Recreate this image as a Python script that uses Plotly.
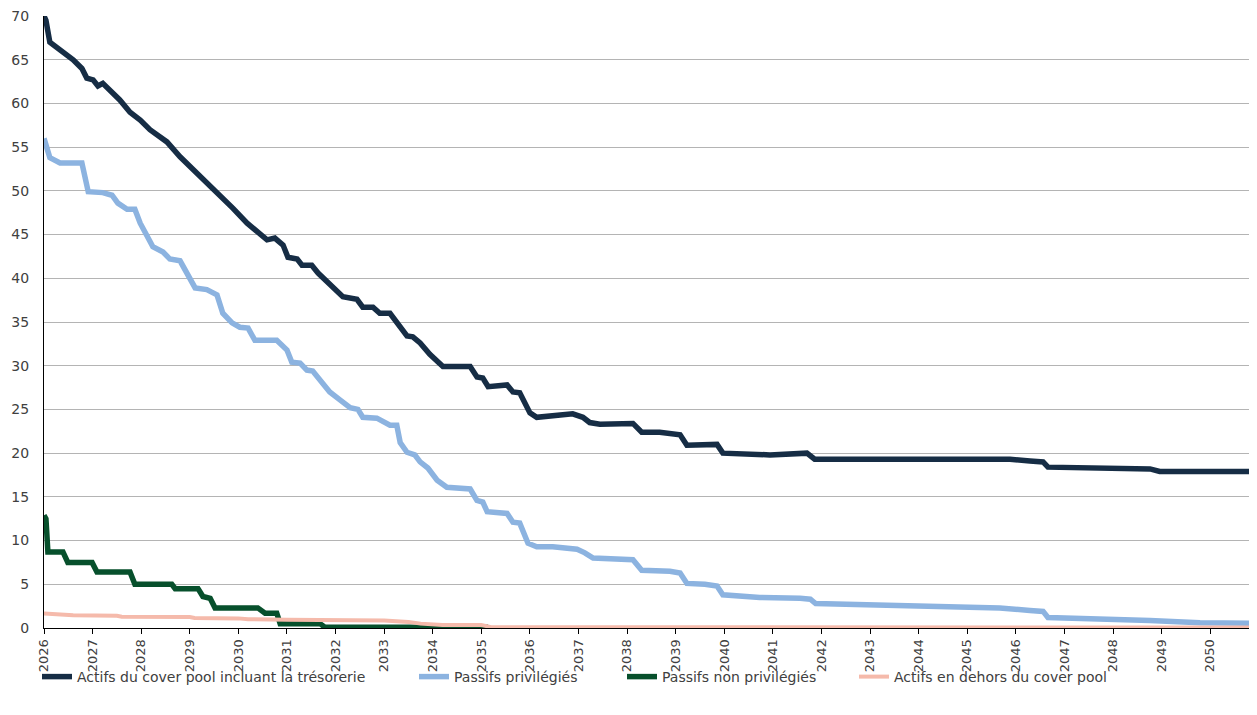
import plotly.graph_objects as go

# ---- data ----
actifs_x = [2026.00, 2026.04, 2026.12, 2026.33, 2026.60, 2026.78, 2026.88, 2027.01, 2027.11, 2027.21,
            2027.36, 2027.56, 2027.77, 2027.98, 2028.18, 2028.53, 2028.80, 2029.15, 2029.48, 2029.68,
            2029.89, 2030.18, 2030.51, 2030.59, 2030.75, 2030.92, 2031.02, 2031.21, 2031.31, 2031.51,
            2031.64, 2031.82, 2031.95, 2032.15, 2032.44, 2032.56, 2032.77, 2032.91, 2033.12, 2033.26,
            2033.47, 2033.59, 2033.74, 2033.94, 2034.21, 2034.77, 2034.91, 2035.03, 2035.14, 2035.53,
            2035.65, 2035.79, 2036.00, 2036.14, 2036.47, 2036.88, 2037.09, 2037.23, 2037.44, 2038.12,
            2038.30, 2038.67, 2039.09, 2039.23, 2039.85, 2039.97, 2040.94, 2041.35, 2041.70, 2041.86,
            2042.79, 2043.20, 2043.61, 2044.02, 2044.85, 2044.95, 2045.57, 2045.67, 2045.88, 2046.29,
            2046.56, 2046.66, 2047.63, 2047.73, 2048.76, 2048.96, 2049.58, 2049.75, 2049.93, 2050.88]
actifs_y = [70.0, 69.5, 67.0, 66.1, 65.0, 64.0, 62.9, 62.7, 62.0, 62.3,
            61.5, 60.4, 59.0, 58.1, 57.0, 55.6, 53.9, 52.0, 50.3, 49.3,
            48.0, 46.3, 44.6, 44.4, 44.6, 43.8, 42.4, 42.2, 41.5, 41.5,
            40.6, 39.6, 39.0, 37.9, 37.6, 36.7, 36.7, 36.0, 36.0, 34.9,
            33.4, 33.3, 32.6, 31.3, 29.9, 29.9, 28.7, 28.6, 27.6, 27.8,
            27.0, 26.9, 24.6, 24.1, 24.3, 24.5, 24.1, 23.5, 23.3, 23.4,
            22.4, 22.4, 22.1, 20.9, 21.0, 20.0, 19.8, 19.9, 20.0, 19.3,
            19.3, 19.4, 19.3, 19.4, 19.4, 19.3, 19.3, 19.4, 19.3, 19.1,
            19.0, 18.4, 18.3, 18.2, 18.2, 17.9, 17.9, 18.05, 17.9, 17.9]

priv_x = [2026.00, 2026.12, 2026.33, 2026.78, 2026.91, 2027.21, 2027.40, 2027.52, 2027.71, 2027.87,
          2027.98, 2028.12, 2028.24, 2028.45, 2028.59, 2028.80, 2028.94, 2029.11, 2029.35, 2029.56,
          2029.68, 2029.87, 2030.03, 2030.20, 2030.34, 2030.79, 2031.00, 2031.10, 2031.27, 2031.41,
          2031.53, 2031.68, 2031.88, 2032.09, 2032.30, 2032.46, 2032.56, 2032.85, 2033.12, 2033.26,
          2033.33, 2033.47, 2033.63, 2033.74, 2033.90, 2034.09, 2034.29, 2034.77, 2034.91, 2035.03,
          2035.12, 2035.53, 2035.65, 2035.79, 2035.96, 2036.14, 2036.47, 2036.97, 2037.13, 2037.30,
          2038.12, 2038.30, 2038.88, 2039.09, 2039.23, 2039.60, 2039.85, 2039.97, 2040.42, 2040.73,
          2041.56, 2041.77, 2041.88, 2042.79, 2043.00, 2044.85, 2045.05, 2045.67, 2046.29, 2046.56,
          2046.66, 2047.73, 2048.76, 2049.79, 2050.88]
priv_y = [56.0, 53.8, 53.2, 53.2, 49.9, 49.8, 49.5, 48.6, 47.9, 47.9,
          46.3, 44.7, 43.6, 43.0, 42.2, 42.0, 40.7, 38.9, 38.7, 38.1,
          36.0, 34.9, 34.4, 34.3, 32.9, 32.9, 31.8, 30.4, 30.3, 29.5,
          29.4, 28.4, 27.0, 26.1, 25.2, 25.0, 24.1, 24.0, 23.2, 23.2,
          21.2, 20.1, 19.8, 19.0, 18.3, 16.9, 16.1, 15.9, 14.6, 14.4,
          13.3, 13.1, 12.1, 12.0, 9.7, 9.3, 9.3, 9.0, 8.6, 8.0,
          7.8, 6.6, 6.5, 6.3, 5.1, 5.0, 4.8, 3.8, 3.6, 3.5,
          3.4, 3.3, 2.8, 2.7, 2.6, 2.5, 2.4, 2.3, 2.0, 1.9,
          1.2, 1.1, 0.85, 0.6, 0.55]

nonpriv_x = [2026.00, 2026.04, 2026.08, 2026.39, 2026.49, 2026.99, 2027.09, 2027.77, 2027.87, 2028.63,
             2028.70, 2029.17, 2029.27, 2029.42, 2029.52, 2030.40, 2030.55, 2030.79, 2030.86, 2031.68,
             2031.78, 2035.14]
nonpriv_y = [12.9, 12.5, 8.7, 8.7, 7.5, 7.5, 6.4, 6.4, 5.0, 5.0,
             4.5, 4.5, 3.6, 3.4, 2.3, 2.3, 1.7, 1.7, 0.5, 0.5,
             0.1, 0.1]

hors_x = [2026.00, 2026.50, 2026.60, 2027.50, 2027.60, 2029.00, 2029.10, 2030.00, 2030.20, 2031.00,
          2032.00, 2033.00, 2033.50, 2033.75, 2034.20, 2035.00, 2035.20, 2050.88]
hors_y = [1.65, 1.55, 1.45, 1.40, 1.30, 1.25, 1.15, 1.10, 1.00, 0.95,
          0.90, 0.85, 0.70, 0.50, 0.35, 0.35, 0.10, 0.05]

year_ticks = list(range(2026, 2051))
year_labels = [str(y) for y in year_ticks]
y_ticks = list(range(0, 75, 5))

names = ["Actifs du cover pool incluant la trésorerie", "Passifs privilégiés",
         "Passifs non privilégiés", "Actifs en dehors du cover pool"]

FONT = "DejaVu Sans"
fig = go.Figure()
series = [
    (actifs_x, actifs_y, "#162d45", 5.5, "legend"),
    (priv_x, priv_y, "#8cb3e0", 5.5, "legend2"),
    (nonpriv_x, nonpriv_y, "#07502c", 5.5, "legend3"),
    (hors_x, hors_y, "#f5baab", 4, "legend4"),
]
for (xs, ys, col, w, lg), nm in zip(series, names):
    fig.add_trace(go.Scatter(x=xs, y=ys, mode="lines", name=nm, legend=lg, showlegend=True,
                             line=dict(color=col, width=w)))

# the page body adds an 8px offset; positions below compensate for it
OFF = 8
leg_common = dict(orientation="h", xref="container", yref="container",
                  yanchor="middle", y=1 - (677 - OFF) / 715, xanchor="left",
                  font=dict(family=FONT, size=14, color="#404040"),
                  bgcolor="rgba(0,0,0,0)", borderwidth=0, visible=True)

def cx(px):
    return (px - 6 - OFF) / 1257.0

fig.update_layout(
    width=1257, height=715, showlegend=True,
    margin=dict(l=44 - OFF, r=4 + OFF, t=16 - OFF, b=87 + OFF, autoexpand=False),
    paper_bgcolor="white", plot_bgcolor="white",
    font=dict(family=FONT, size=13, color="#404040"),
    legend=dict(leg_common, x=cx(43)),
    legend2=dict(leg_common, x=cx(420)),
    legend3=dict(leg_common, x=cx(628)),
    legend4=dict(leg_common, x=cx(860)),
    xaxis=dict(range=[2026, 2050.88], tickmode="array", tickvals=year_ticks, ticktext=year_labels,
               tickangle=-90, ticks="outside", ticklen=5, tickcolor="#000", showline=True,
               linecolor="#000", linewidth=1, showgrid=False, zeroline=False, automargin=False,
               ticklabeloverflow="allow",
               tickfont=dict(family=FONT, size=13, color="#404040")),
    yaxis=dict(range=[0, 70], tickmode="array", tickvals=y_ticks, showline=True,
               linecolor="#000", linewidth=1, showgrid=True, gridcolor="#b4b4b4", gridwidth=1,
               zeroline=False, ticks="", automargin=False, ticklabelstandoff=11,
               ticklabeloverflow="allow",
               tickfont=dict(family=FONT, size=14, color="#404040")),
)

fig.write_html("out.html")
